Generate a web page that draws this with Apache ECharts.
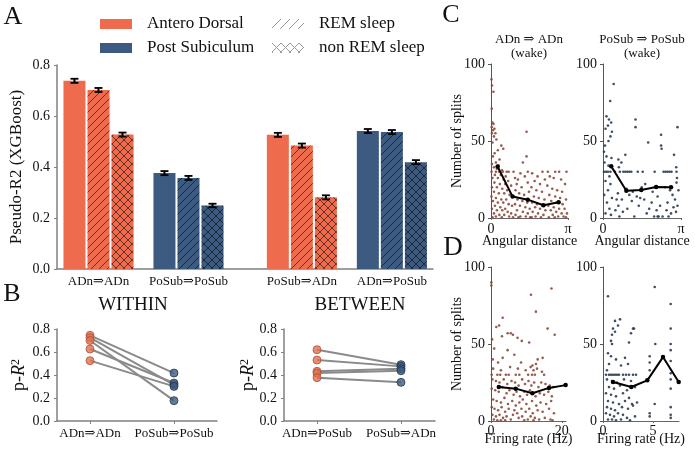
<!DOCTYPE html>
<html><head><meta charset="utf-8">
<script src="https://cdn.jsdelivr.net/npm/echarts@6/dist/echarts.min.js"></script>
<style>html,body{margin:0;padding:0;background:#fff}#c{width:695px;height:457px}</style>
</head><body><div id="c"></div>
<script>
// ---------- DATA ----------
// Panel A
const groupLabels = ['ADn⇒ADn', 'PoSub⇒PoSub', 'PoSub⇒ADn', 'ADn⇒PoSub'];
const groupPos = [0, 1, 2.26, 3.26];
const groupRegion = [0, 1, 0, 1]; // 0 = Antero Dorsal, 1 = Post Subiculum
const wakeVals = [0.738, 0.376, 0.526, 0.541];
const remVals = [0.702, 0.357, 0.484, 0.537];
const nremVals = [0.527, 0.249, 0.281, 0.419];
const wakeErr = [0.008, 0.008, 0.008, 0.008];
const remErr = [0.008, 0.008, 0.008, 0.008];
const nremErr = [0.008, 0.007, 0.008, 0.008];
const legendRegions = ['Antero Dorsal', 'Post Subiculum'];
const legendStates = ['REM sleep', 'non REM sleep'];
// Panel B
const withinCats = ['ADn⇒ADn', 'PoSub⇒PoSub'];
const withinADn = [0.745, 0.725, 0.700, 0.626, 0.525];
const withinPoSub = [0.417, 0.315, 0.177, 0.330, 0.301];
const betweenCats = ['ADn⇒PoSub', 'PoSub⇒ADn'];
const betweenADnPoSub = [0.620, 0.530, 0.432, 0.417, 0.377];
const betweenPoSubADn = [0.490, 0.475, 0.455, 0.437, 0.336];
// Panel C (angular distance, number of splits)
const angTicks = [0, Math.PI];
const angTickLabels = ['0', 'π'];
const cAdnMean = [[0.27,33.4],[0.88,13.9],[1.5,11.9],[2.14,8.3],[2.76,10.2]];
const cPoSubMean = [[0.33,33.6],[0.94,17.7],[1.54,18.2],[2.14,20.1],[2.74,19.9]];
const cAdnPts = [[0.02,90],[0.04,86],[0.1,82],[0.03,71],[0.06,62],[0.1,61],[0.03,59],[0.14,58],[0.08,57],[0.04,55],[0.18,55],[0.12,53],[0.22,51],[0.06,49],[0.42,47],[0.5,45],[0.28,44],[0.15,42],[0.08,40],[0.35,38],[0.2,36],[0.04,35],[0.3,34],[0.12,33],[0.24,32],[0.45,31],[0.02,30],[0.2,30],[0.33,30],[0.48,30],[0.64,30],[0.72,30],[0.92,30],[0.16,28],[0.4,28],[0.6,27],[0.06,26],[0.28,26],[0.52,25],[0.7,24],[0.14,23],[0.36,22],[0.58,22],[0.82,21],[0.04,20],[0.24,20],[0.46,19],[0.66,18],[0.12,17],[0.32,16],[0.54,16],[0.76,15],[0.9,14],[0.02,14],[0.2,13],[0.42,12],[0.62,12],[0.08,11],[0.28,10],[0.5,10],[0.72,9],[0.86,8],[0.16,8],[0.38,7],[0.58,6],[0.04,6],[0.24,5],[0.46,5],[0.68,4],[0.82,3],[0.12,3],[0.34,2],[0.54,2],[0.2,1],[0.74,1],[0.44,0.5],[0.9,0.5],[0.06,0.5],[0.98,26],[1.1,25],[1.3,36],[1.45,40],[1.45,56],[1.5,30],[1.2,29],[1.38,27],[1.05,22],[1.25,20],[1.5,23],[1.0,18],[1.15,16],[1.35,15],[1.55,17],[1.08,12],[1.28,11],[1.48,10],[0.98,9],[1.18,8],[1.4,7],[1.58,6],[1.06,5],[1.3,4],[1.5,3],[1.0,2],[1.2,1],[1.42,1],[1.12,0.5],[1.6,0.5],[1.68,29],[1.9,27],[2.1,30],[1.78,24],[2.0,22],[2.2,25],[1.65,20],[1.85,18],[2.08,17],[1.75,14],[1.95,13],[2.18,12],[1.68,10],[1.88,9],[2.1,8],[1.8,7],[2.0,6],[2.22,5],[1.7,4],[1.92,3],[2.14,2],[1.82,1],[2.04,0.5],[1.66,0.5],[2.32,30],[2.62,30],[2.78,30],[3.08,30],[2.4,27],[2.56,26],[2.86,25],[3.02,22],[2.3,21],[2.5,19],[2.7,18],[2.9,17],[2.38,15],[2.62,14],[2.82,13],[3.06,12],[2.46,11],[2.68,10],[2.92,9],[2.34,8],[2.56,7],[2.78,6],[3.0,6],[2.44,5],[2.66,4],[2.88,3],[3.1,3],[2.52,2],[2.74,1],[2.96,1],[2.36,0.5],[2.6,0.5],[3.06,0.5]];
const cPoSubPts = [[0.43,87],[0.29,76],[0.14,66],[0.24,64],[0.33,62],[0.2,60],[0.1,58],[0.36,56],[0.3,53],[0.22,50],[0.08,47],[0.04,43],[0.14,40],[0.34,39],[0.06,36],[0.22,34],[0.04,30],[0.12,30],[0.2,30],[0.3,30],[0.48,30],[0.68,30],[0.82,30],[0.9,30],[0.98,30],[1.06,30],[1.14,30],[1.4,30],[1.6,30],[2.08,30],[2.44,30],[2.52,30],[2.6,30],[2.68,30],[2.76,30],[2.96,30],[0.26,27],[0.64,33],[0.74,36],[0.9,41],[0.62,38],[1.31,64],[1.31,59],[1.82,49],[2.34,54],[2.34,47],[2.36,45],[3.0,59],[2.86,41],[2.95,33],[2.98,26],[2.96,23],[0.1,24],[0.3,22],[0.2,18],[0.05,15],[0.36,13],[0.16,10],[0.26,6],[0.1,3],[0.32,2],[0.6,16],[0.55,12],[0.76,12],[0.62,8],[0.5,5],[0.8,4],[0.66,1],[0.95,19],[1.06,15],[1.2,17],[1.16,11],[0.98,6],[1.26,1],[1.36,14],[1.5,13],[1.44,8],[1.56,20],[1.7,22],[1.66,12],[1.86,6],[1.76,3],[2.0,17],[1.96,10],[2.06,1],[2.2,14],[2.3,8],[2.16,5],[2.4,1],[2.5,20],[2.6,10],[2.56,5],[2.7,18],[2.64,1],[2.8,15],[2.84,7],[2.74,3],[2.9,12],[2.94,4],[3.04,18],[3.0,8],[2.2,1],[2.24,1]];
// Panel D (firing rate, number of splits)
const dAdnMean = [[2.2,22],[7.0,21],[11.7,18],[16.4,21.5],[21.1,23.3]];
const dPoSubMean = [[1.0,25.3],[2.83,22.1],[4.43,26.4],[6.0,41.5],[7.57,25.3]];
const dAdnPts = [[0.1,90],[0.1,88],[11.3,82],[17.1,86],[12.7,71],[16,60],[18,56],[3.3,67],[2.3,62],[1.5,61],[4.7,57],[5.6,57],[6.2,56],[3.1,55],[7.5,54],[8.7,52],[10.8,51],[0.3,53],[4.7,46],[6.6,43],[0.9,47],[13.2,40],[14.6,41],[11.7,36],[12.7,37],[3.3,41],[0.5,40],[2,38],[8.5,38],[0.2,30],[1.8,30],[2.6,30],[4.2,30],[5,30],[7,30],[8,30],[10.5,30],[11.6,30],[12.4,30],[15,30],[0.6,34],[2.8,33],[5.4,35],[7.6,34],[9.8,33],[11.2,35],[12,33],[13,34],[14.4,32],[0.4,27],[1.4,26],[2.4,25],[3.6,27],[4.6,24],[5.8,26],[6.8,25],[7.8,23],[8.8,27],[9.6,24],[10.6,26],[11.4,23],[12.2,25],[13.4,22],[14.2,25],[15.4,24],[16.6,23],[17.6,22],[0.2,21],[1.2,20],[2.2,19],[3.2,22],[4.4,18],[5.2,20],[6.4,17],[7.2,19],[8.2,16],[9.4,19],[10.2,17],[11,20],[12.6,16],[13.8,18],[15,17],[16.2,19],[17.2,16],[0.6,14],[1.6,13],[2.8,12],[3.8,15],[4.8,11],[6,13],[7,10],[8,12],[9,14],[10,11],[11.6,13],[12.8,10],[14,12],[15.6,11],[17,13],[0.2,9],[1,8],[2,7],[3,9],[4,6],[5,8],[6.6,7],[7.4,5],[8.6,8],[9.8,6],[10.8,8],[11.8,5],[13.2,7],[14.6,6],[16.4,8],[17.8,5],[0.4,4],[1.4,3],[2.4,4],[3.4,2],[4.4,3],[5.6,1],[6.2,4],[7.8,2],[8.8,3],[10.4,1],[11.2,3],[12.4,2],[13.6,1],[15.2,2],[16.8,1],[0.8,1],[1.8,0.5],[2.8,0.5],[4,0.5],[9.4,0.5],[12,0.5],[17.4,0.5]];
const dPoSubPts = [[5.17,87],[6.77,76],[0.5,81],[1.2,65],[1.7,66],[1.5,62],[1.0,60],[1.2,58],[0.9,56],[0.8,52],[0.9,50],[2.6,51],[3.0,60],[3.1,60],[2.8,57],[5.23,50],[6.77,60],[6.77,50],[6.77,46],[4.67,42],[4.67,38],[4.67,33],[6.77,39],[6.77,31],[6.77,27],[6.77,21],[6.77,9],[6.77,4],[6.77,2],[5.17,11],[4.67,5],[4.67,3],[0.5,44],[0.8,42],[1.3,40],[2.2,41],[0.6,37],[1.8,36],[2.5,37],[0.4,33],[0.3,30],[0.6,30],[0.8,30],[1.0,30],[1.2,30],[1.4,30],[1.6,30],[2.0,30],[2.3,30],[2.6,30],[3.0,30],[3.3,30],[0.4,27],[0.9,26],[1.4,25],[2.1,27],[2.8,26],[0.6,22],[1.1,21],[1.7,23],[2.4,20],[3.2,22],[0.3,18],[0.8,17],[1.3,16],[2.0,18],[2.6,15],[0.5,13],[1.0,12],[1.6,11],[2.2,13],[2.9,11],[3.4,12],[0.4,9],[0.8,8],[1.2,7],[1.9,9],[2.5,8],[3.0,10],[0.3,5],[0.7,4],[1.1,3],[1.5,5],[2.0,4],[2.4,2],[3.2,3],[0.5,1],[0.9,1],[1.3,0.5],[1.8,1],[2.7,0.5]];

// ---------- STYLE ----------
const FONT = '"Liberation Serif","DejaVu Serif",serif';
const TXT = '#111';
const ORANGE = '#ee6c4d', BLUE = '#3d5a80';
const AX = '#808080';

function tile(bg, fg, kind, s) {
  const c = document.createElement('canvas'); c.width = s; c.height = s;
  const g = c.getContext('2d');
  if (bg) { g.fillStyle = bg; g.fillRect(0, 0, s, s); }
  g.strokeStyle = fg; g.lineWidth = 1;
  g.beginPath();
  g.moveTo(0, s); g.lineTo(s, 0);
  g.moveTo(-1, 1); g.lineTo(1, -1);
  g.moveTo(s - 1, s + 1); g.lineTo(s + 1, s - 1);
  if (kind === 'x') {
    g.moveTo(0, 0); g.lineTo(s, s);
    g.moveTo(-1, s - 1); g.lineTo(1, s + 1);
    g.moveTo(s - 1, -1); g.lineTo(s + 1, 1);
  }
  g.stroke();
  return { image: c, repeat: 'repeat' };
}
const HATCH = 'rgba(0,0,0,0.55)';
const fills = [
  [ORANGE, tile(ORANGE, HATCH, '/', 8), tile(ORANGE, HATCH, 'x', 8)],
  [BLUE, tile(BLUE, HATCH, '/', 8), tile(BLUE, HATCH, 'x', 8)]
];
const legendFills = [ORANGE, BLUE, tile(null, '#999', '/', 9), tile(null, '#999', 'x', 9)];

const barData = [];
const vals = [wakeVals, remVals, nremVals], errs = [wakeErr, remErr, nremErr];
groupPos.forEach((p, g) => {
  for (let s = 0; s < 3; s++) barData.push([p + (s - 1) * 0.267, vals[s][g], errs[s][g], s, groupRegion[g]]);
});

function nearestIdx(arr, v) { let b = 0; arr.forEach((a, i) => { if (Math.abs(a - v) < Math.abs(arr[b] - v)) b = i; }); return b; }

const lbl = (size, extra) => Object.assign({ fontFamily: FONT, fontSize: size, color: TXT }, extra || {});
function axBase(gi, type, o) {
  return Object.assign({
    type: 'value', gridIndex: gi, splitLine: { show: false }, nameMoveOverlap: false,
    axisLine: { show: true, onZero: false, lineStyle: { color: AX, width: 1.5 } },
    axisTick: { show: true, length: 3, lineStyle: { color: AX, width: 1 } },
    axisLabel: lbl(14, { margin: 7 }),
    nameTextStyle: lbl(14)
  }, o);
}

const gridBoxes = [
  { left: 57, top: 65, width: 376, height: 204 },
  { left: 57, top: 329, width: 160, height: 92 },
  { left: 284, top: 329, width: 151, height: 92 },
  { left: 491, top: 64, width: 77, height: 154 },
  { left: 603, top: 64, width: 78, height: 154 },
  { left: 491, top: 267, width: 75, height: 154 },
  { left: 603, top: 267, width: 76, height: 154 }
];
const grids = gridBoxes.map(g => Object.assign({ outerBoundsMode: 'none', containLabel: false }, g));

const pR2 = {
  name: '{a|p-}{i|R}{s|2}',
  nameTextStyle: { rich: { a: lbl(18), i: lbl(18, { fontStyle: 'italic' }), s: lbl(12, { verticalAlign: 'top' }) } }
};
const catLabel = (cats, pos) => ({
  axisLabel: lbl(13, { margin: 6, customValues: pos, formatter: v => cats[nearestIdx(pos, v)] }),
  axisTick: { show: true, length: 3, customValues: pos, lineStyle: { color: AX } }
});

const angX = gi => axBase(gi, 'value', { min: 0, max: Math.PI, name: 'Angular distance', nameLocation: 'middle', nameGap: 16,
  nameTextStyle: lbl(14, { backgroundColor: 'transparent' }),
  axisLine: { show: true, onZero: false, lineStyle: { color: '#666', width: 1 } },
  axisLabel: lbl(14, { margin: 4, hideOverlap: false,
    customValues: angTicks.slice(1), formatter: v => angTickLabels[nearestIdx(angTicks, v)] }),
  axisTick: { show: true, length: 2, customValues: angTicks, lineStyle: { color: '#666' } } });
const rateX = (gi, max, ticks) => axBase(gi, 'value', { min: 0, max, name: 'Firing rate (Hz)', nameLocation: 'middle', nameGap: 11,
  nameTextStyle: lbl(14, { backgroundColor: 'transparent' }),
  axisLine: { show: true, onZero: false, lineStyle: { color: '#666', width: 1 } },
  axisLabel: lbl(14, { margin: 3, showMinLabel: true, hideOverlap: false, customValues: ticks }),
  axisTick: { show: true, length: 2, customValues: ticks, lineStyle: { color: '#666' } } });

const xAxes = [
  axBase(0, 'value', Object.assign({ min: -0.461, max: 3.717 }, catLabel(groupLabels, groupPos), { axisTick: { show: false } })),
  axBase(1, 'value', Object.assign({ min: -0.393, max: 1.512 }, catLabel(withinCats, [0, 1]))),
  axBase(2, 'value', Object.assign({ min: -0.393, max: 1.405 }, catLabel(betweenCats, [0, 1]))),
  angX(3), angX(4), rateX(5, 21.2, [0, 20]), rateX(6, 7.6, [0, 5])
];
const yFmt = v => v.toFixed(1);
const splitsY = (gi, named) => axBase(gi, 'value', Object.assign({ min: 0, max: 100, interval: 50,
  axisLine: { show: true, onZero: false, lineStyle: { color: '#555', width: 1 } },
  axisTick: { show: true, length: 3, lineStyle: { color: '#555' } },
  axisLabel: lbl(14, { margin: 6, showMinLabel: true, hideOverlap: false }) },
  named ? { name: 'Number of splits', nameLocation: 'middle', nameGap: 27, nameTextStyle: lbl(14) } : {}));
const yAxes = [
  axBase(0, 'value', { min: 0, max: 0.8, interval: 0.2, axisLabel: lbl(14, { margin: 7, formatter: yFmt }),
    name: 'Pseudo-R2 (XGBoost)', nameLocation: 'middle', nameGap: 32, nameTextStyle: lbl(17) }),
  axBase(1, 'value', Object.assign({ min: 0, max: 0.8, interval: 0.2, axisLabel: lbl(14, { margin: 7, formatter: yFmt }),
    nameLocation: 'middle', nameGap: 29 }, pR2)),
  axBase(2, 'value', Object.assign({ min: 0, max: 0.8, interval: 0.2, axisLabel: lbl(14, { margin: 7, formatter: yFmt }),
    nameLocation: 'middle', nameGap: 27 }, pR2)),
  splitsY(3, true), splitsY(4, false), splitsY(5, true), splitsY(6, false)
];

const series = [];
// legend dummies
[...legendRegions, ...legendStates].forEach((n, i) => series.push({
  type: 'bar', name: n, data: [], xAxisIndex: 0, yAxisIndex: 0, itemStyle: { color: legendFills[i] }
}));
// bars
series.push({
  type: 'custom', xAxisIndex: 0, yAxisIndex: 0, data: barData, z: 3,
  renderItem(params, api) {
    const x = api.value(0), y = api.value(1), err = api.value(2), s = api.value(3), r = api.value(4);
    const top = api.coord([x, y]), base = api.coord([x, 0]);
    const lo = api.coord([x, y - err]), hi = api.coord([x, y + err]);
    const w = 22, cx = top[0];
    return { type: 'group', children: [
      { type: 'rect', shape: { x: cx - w / 2, y: top[1], width: w, height: base[1] - top[1] }, style: { fill: fills[r][s] } },
      { type: 'line', shape: { x1: cx, y1: lo[1], x2: cx, y2: hi[1] }, style: { stroke: '#000', lineWidth: 2 } },
      { type: 'line', shape: { x1: cx - 4, y1: hi[1], x2: cx + 4, y2: hi[1] }, style: { stroke: '#000', lineWidth: 1.8 } },
      { type: 'line', shape: { x1: cx - 4, y1: lo[1], x2: cx + 4, y2: lo[1] }, style: { stroke: '#000', lineWidth: 1.8 } }
    ] };
  }
});
// panel B
function pairSeries(gi, a, b) {
  a.forEach((v, i) => series.push({ type: 'line', xAxisIndex: gi, yAxisIndex: gi, data: [[0, v], [1, b[i]]],
    symbol: 'none', lineStyle: { color: '#8a8a8a', width: 2 }, z: 2, silent: true }));
  series.push({ type: 'scatter', xAxisIndex: gi, yAxisIndex: gi, data: a.map(v => [0, v]), symbolSize: 8, z: 4,
    itemStyle: { color: '#e2704f', borderColor: '#a9553d', borderWidth: 1 } });
  series.push({ type: 'scatter', xAxisIndex: gi, yAxisIndex: gi, data: b.map(v => [1, v]), symbolSize: 8, z: 4,
    itemStyle: { color: '#3d5a80', borderColor: '#26384f', borderWidth: 1 } });
}
pairSeries(1, withinADn, withinPoSub);
pairSeries(2, betweenADnPoSub, betweenPoSubADn);
// panels C, D
function scat(gi, pts, mean, col) {
  series.push({ type: 'scatter', xAxisIndex: gi, yAxisIndex: gi, data: pts, symbolSize: 2.6, z: 2,
    itemStyle: { color: col, opacity: 0.9 } });
  series.push({ type: 'line', xAxisIndex: gi, yAxisIndex: gi, data: mean, symbol: 'circle', symbolSize: 4.5, z: 5,
    itemStyle: { color: '#000' }, lineStyle: { color: '#000', width: 2 } });
}
scat(3, cAdnPts, cAdnMean, '#8b4a3b');
scat(4, cPoSubPts, cPoSubMean, '#2b3c55');
scat(5, dAdnPts, dAdnMean, '#8b4a3b');
scat(6, dPoSubPts, dPoSubMean, '#2b3c55');

const T = (text, x, y, size, extra) => ({ type: 'text', x, y, z: 100, style: Object.assign({ text, fontFamily: FONT, fontSize: size, fill: TXT,
  textAlign: 'center', textVerticalAlign: 'middle' }, extra || {}) });
const graphic = [
  T('A', 13, 17, 26), T('B', 12, 294, 26), T('C', 451, 15, 26), T('D', 453, 248, 27),
  T('WITHIN', 133, 305, 19), T('BETWEEN', 360, 305, 19),
  T('ADn ⇒ ADn', 529, 40, 13), T('(wake)', 529, 53.5, 13),
  T('PoSub ⇒ PoSub', 642, 40, 13), T('(wake)', 642, 53.5, 13)
];
// first angular tick label ("0") placed at the start of each angular axis
[3, 4].forEach(gi => {
  const b = gridBoxes[gi];
  graphic.push(T(angTickLabels[0], b.left, b.top + b.height + 11, 14));
});

const legendCommon = { orient: 'vertical', itemWidth: 32, itemHeight: 10, itemGap: 7, icon: 'rect', padding: 0, top: 15.5,
  selectedMode: false, textStyle: lbl(17, { lineHeight: 17, padding: [0, 0, 0, 10] }), itemStyle: { borderWidth: 0 } };
const chart = echarts.init(document.getElementById('c'), null, { renderer: 'canvas' });
chart.setOption({
  animation: false, backgroundColor: '#fff',
  grid: grids, xAxis: xAxes, yAxis: yAxes, series, graphic,
  legend: [Object.assign({ left: 100, data: legendRegions }, legendCommon), Object.assign({ left: 272, data: legendStates }, legendCommon)]
});
</script></body></html>
